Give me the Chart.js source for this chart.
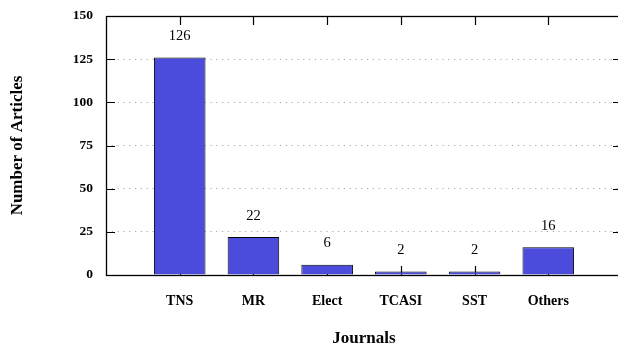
<!DOCTYPE html>
<html>
<head>
<meta charset="utf-8">
<script src="https://cdn.jsdelivr.net/npm/chart.js@4.4.1/dist/chart.umd.min.js"></script>
<style>
  html,body{margin:0;padding:0;background:#fff;overflow:hidden;}
  canvas{display:block;}
</style>
</head>
<body>
<canvas id="c" width="624" height="347"></canvas>
<script>
// donnees
const journals = ['TNS','MR','Elect','TCASI','SST','Others'];
const articles = [126, 22, 6, 2, 2, 16];
const yTicks   = [0, 25, 50, 75, 100, 125, 150];

const SERIF = '"Liberation Serif","Times New Roman",serif';
const points = articles.map((v,i)=>({x:i, y:v}));

// petits traits vers l'interieur, facon gnuplot
const tickMarks = {
  id:'tickMarks',
  beforeDatasetsDraw(chart){
    const {ctx, chartArea:a, scales:{x,y}} = chart;
    ctx.save();
    ctx.strokeStyle = '#000';
    ctx.lineWidth = 1.2;
    ctx.beginPath();
    journals.forEach((_,i)=>{
      const px = Math.round(x.getPixelForValue(i))+0.5;
      ctx.moveTo(px, a.top); ctx.lineTo(px, a.top+9);
      ctx.moveTo(px, a.bottom); ctx.lineTo(px, a.bottom-9);
    });
    yTicks.forEach(t=>{
      const py = Math.round(y.getPixelForValue(t))+0.5;
      ctx.moveTo(a.left, py); ctx.lineTo(a.left+9, py);
      ctx.moveTo(a.right, py); ctx.lineTo(a.right-9, py);
    });
    ctx.stroke();
    ctx.restore();
  },
  afterDatasetsDraw(chart){
    const {ctx, chartArea:a} = chart;
    ctx.save();
    ctx.strokeStyle = '#000';
    ctx.lineWidth = 1.3;
    ctx.strokeRect(a.left+0.5, a.top+0.5, a.right-a.left, a.bottom-a.top);
    // valeurs au-dessus des barres
    ctx.fillStyle = '#000';
    ctx.font = '14.5px '+SERIF;
    ctx.textAlign = 'center';
    ctx.textBaseline = 'middle';
    chart.getDatasetMeta(0).data.forEach((bar,i)=>{
      ctx.fillText(String(articles[i]), bar.x, bar.y-21);
    });
    ctx.restore();
  }
};

new Chart(document.getElementById('c'), {
  type:'bar',
  data:{
    datasets:[{
      data: points,
      backgroundColor:'#4b4bdc',
      borderColor:'#000',
      borderWidth:1,
      barPercentage:0.7,
      categoryPercentage:1
    }]
  },
  options:{
    responsive:false,
    animation:false,
    layout:{padding:{left:7, top:16, right:2, bottom:0}},
    plugins:{legend:{display:false}, tooltip:{enabled:false}},
    scales:{
      x:{
        type:'linear', min:-1, max:6, offset:false,
        grid:{display:false},
        border:{display:false},
        ticks:{
          stepSize:1, autoSkip:false, maxRotation:0, padding:10,
          color:'#000', font:{family:SERIF, size:14, weight:'bold'},
          callback:v=>journals[v] ?? ''
        },
        title:{display:true, text:'Journals', color:'#000', padding:0,
               font:{family:SERIF, size:17, weight:'bold', lineHeight:1}},
        afterFit(s){ s.height = 72; s.paddingLeft = 0; s.paddingRight = 0; }
      },
      y:{
        min:0, max:150,
        grid:{
          drawTicks:false,
          color:c=>(c.tick.value===0||c.tick.value===150)?'rgba(0,0,0,0)':'#a8a8a8',
          lineWidth:1
        },
        border:{display:false, dash:[1.2,4.6]},
        ticks:{
          stepSize:25, padding:13,
          color:'#000', font:{family:SERIF, size:13.5, weight:'bold'}
        },
        title:{display:true, text:'Number of Articles', color:'#000', padding:0,
               font:{family:SERIF, size:17, weight:'bold'}},
        afterFit(s){ s.width = 99; s.paddingTop = 0; s.paddingBottom = 0; }
      }
    }
  },
  plugins:[tickMarks]
});
</script>
</body>
</html>
